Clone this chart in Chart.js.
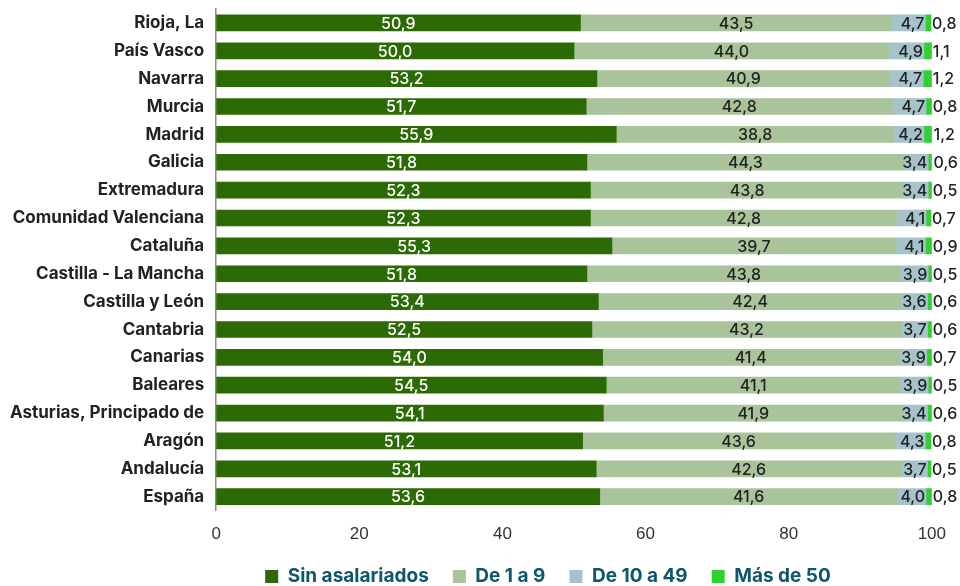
<!DOCTYPE html>
<html>
<head>
<meta charset="utf-8">
<script src="https://cdn.jsdelivr.net/npm/chart.js@4"></script>
<style>
  html, body { margin: 0; padding: 0; background: #fff; }
  #wrap { width: 960px; height: 586px; }
</style>
</head>
<body>
<div id="wrap"><canvas id="chart" width="960" height="586"></canvas></div>
<script>
const regions = ["Rioja, La", "País Vasco", "Navarra", "Murcia", "Madrid", "Galicia", "Extremadura",
    "Comunidad Valenciana", "Cataluña", "Castilla - La Mancha", "Castilla y León", "Cantabria",
    "Canarias", "Baleares", "Asturias, Principado de", "Aragón", "Andalucía", "España"];

const sinAsalariados = [50.9, 50.0, 53.2, 51.7, 55.9, 51.8, 52.3, 52.3, 55.3, 51.8, 53.4, 52.5, 54.0, 54.5, 54.1, 51.2, 53.1, 53.6];
const de1a9 = [43.5, 44.0, 40.9, 42.8, 38.8, 44.3, 43.8, 42.8, 39.7, 43.8, 42.4, 43.2, 41.4, 41.1, 41.9, 43.6, 42.6, 41.6];
const de10a49 = [4.7, 4.9, 4.7, 4.7, 4.2, 3.4, 3.4, 4.1, 4.1, 3.9, 3.6, 3.7, 3.9, 3.9, 3.4, 4.3, 3.7, 4.0];
const masDe50 = [0.8, 1.1, 1.2, 0.8, 1.2, 0.6, 0.5, 0.7, 0.9, 0.5, 0.6, 0.6, 0.7, 0.5, 0.6, 0.8, 0.5, 0.8];

const xTicks = [0, 20, 40, 60, 80, 100];

function fmt(v) {
    return v.toFixed(1).replace(".", ",");
}

// draws the value labels of each segment
const valueLabels = {
    id: "valueLabels",
    afterDatasetsDraw(chart) {
        const ctx = chart.ctx;
        ctx.save();
        ctx.font = "500 16px Inter, sans-serif";
        ctx.textBaseline = "middle";
        chart.data.datasets.forEach((ds, i) => {
            const meta = chart.getDatasetMeta(i);
            meta.data.forEach((bar, j) => {
                const text = fmt(ds.data[j]);
                const left = Math.min(bar.base, bar.x);
                const right = Math.max(bar.base, bar.x);
                ctx.fillStyle = i === 0 ? "#ffffff" : "#222222";
                if (i < 2) {
                    ctx.textAlign = "center";
                    ctx.fillText(text, (left + right) / 2, bar.y + 1);
                } else if (i === 2) {
                    ctx.textAlign = "right";
                    ctx.fillText(text, right - 1, bar.y + 1);
                } else {
                    ctx.textAlign = "left";
                    ctx.fillText(text, right + 1, bar.y + 1);
                }
            });
        });
        ctx.restore();
    }
};

// moves the legend so it sits centred where the reference has it
const legendShift = {
    id: "legendShift",
    afterLayout(chart) {
        const lg = chart.legend;
        const dx = 548 - (lg.left + lg.right) / 2;
        lg.left += dx;
        lg.right += dx;
    }
};

new Chart(document.getElementById("chart"), {
    type: "bar",
    data: {
        labels: regions,
        datasets: [
            { label: "Sin asalariados", data: sinAsalariados, backgroundColor: "#2b6a04" },
            { label: "De 1 a 9", data: de1a9, backgroundColor: "#a9c39a" },
            { label: "De 10 a 49", data: de10a49, backgroundColor: "#a6c3cc" },
            { label: "Más de 50", data: masDe50, backgroundColor: "#2ed12e" }
        ]
    },
    options: {
        indexAxis: "y",
        responsive: false,
        animation: false,
        layout: { padding: { top: 9, right: 24, bottom: -10, left: -2 } },
        datasets: { bar: { barThickness: 16 } },
        scales: {
            x: {
                stacked: true,
                min: 0,
                max: 100,
                afterBuildTicks: (axis) => { axis.ticks = xTicks.map(v => ({ value: v })); },
                afterFit: (axis) => { axis.height -= 16; },
                grid: { display: false, drawTicks: false },
                border: { display: false },
                ticks: {
                    color: "#333",
                    padding: 14,
                    font: { family: "'Liberation Sans', Arial, sans-serif", size: 17 }
                }
            },
            y: {
                stacked: true,
                afterFit: (axis) => { axis.paddingTop = 0; axis.paddingBottom = 0; },
                grid: { display: false, drawTicks: false },
                border: { display: true, color: "#8a8a8a", width: 1.5 },
                ticks: {
                    color: "#222",
                    padding: 12,
                    autoSkip: false,
                    font: { family: "Inter, sans-serif", size: 17, weight: "bold" }
                }
            }
        },
        plugins: {
            legend: {
                position: "bottom",
                labels: {
                    boxWidth: 13,
                    boxHeight: 13,
                    padding: 24,
                    color: "#0d566b",
                    font: { family: "Inter, sans-serif", size: 19, weight: "bold" }
                }
            },
            tooltip: { enabled: false }
        }
    },
    plugins: [valueLabels, legendShift]
});
</script>
</body>
</html>
